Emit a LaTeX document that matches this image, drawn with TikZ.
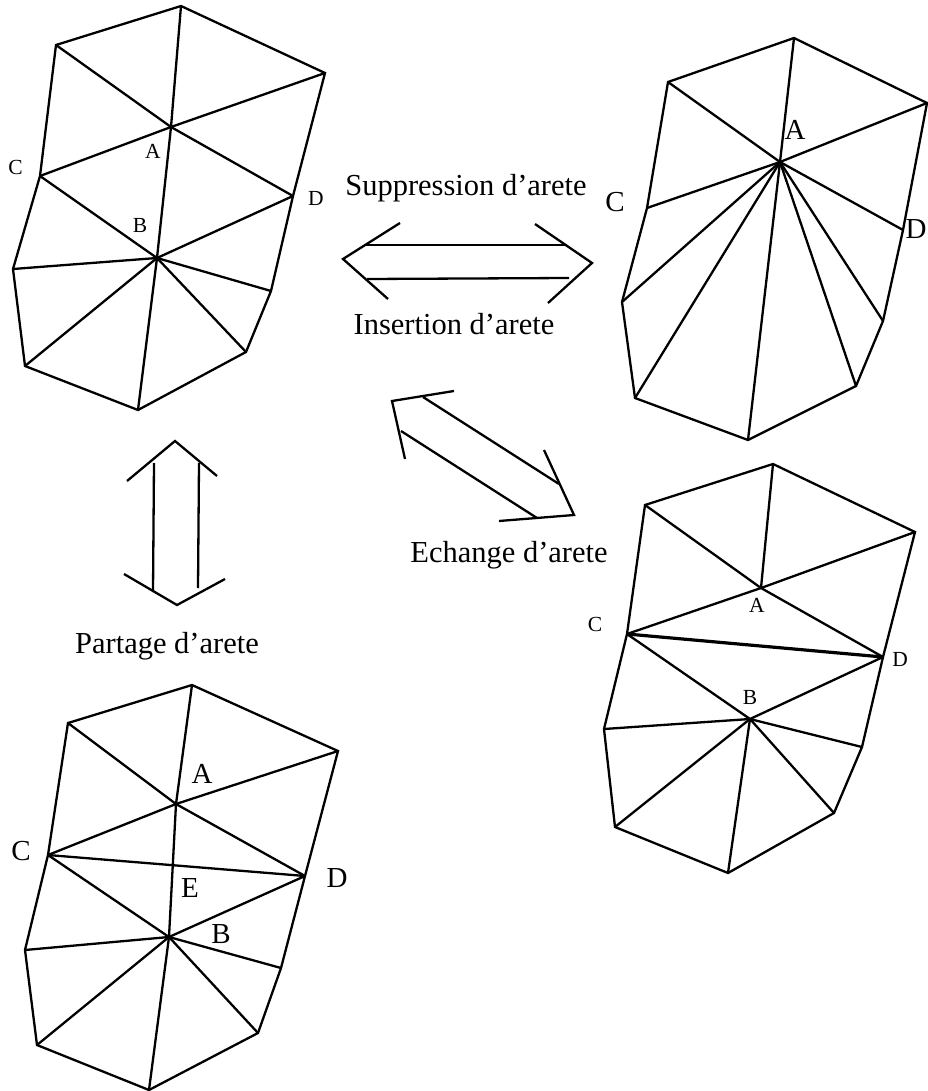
\documentclass[tikz,border=0pt]{standalone}
\usepackage{fontspec}
\setmainfont{Liberation Serif}
\usetikzlibrary{positioning}
\begin{document}
\begin{tikzpicture}[
    x=1pt, y=-1pt,
    edge/.style={line width=2.3pt, line join=miter, line cap=butt},
    smalllabel/.style={font=\fontsize{21.5}{26}\selectfont, inner sep=0pt},
    midlabel/.style={font=\fontsize{29}{34}\selectfont, inner sep=0pt},
    biglabel/.style={font=\fontsize{29}{34}\selectfont, inner sep=0pt},
    caption/.style={font=\fontsize{30.5}{36}\selectfont, inner sep=0pt},
]
\useasboundingbox (0,0) rectangle (927,1091);

% top left mesh
\foreach \n/\x/\y in {T/181/6, TL/56/45, TR/325/73, A/171/127, C/40/176, D/293/196, B/157/258, L/13/269, R/271/291, BR/246/352, BL/25/366, S/138/410}
    \coordinate (a\n) at (\x,\y);
\draw[edge] (aT) -- (aTL) -- (aC) -- (aL) -- (aBL) -- (aS) -- (aBR) -- (aR) -- (aD) -- (aTR) -- cycle;
\foreach \p/\q in {T/A, TL/A, TR/A, C/A, D/A, A/B, C/B, D/B, L/B, BL/B, S/B, BR/B, R/B}
    \draw[edge] (a\p) -- (a\q);
\node[smalllabel] (aAl) at (153,151) {A};
\node[smalllabel] (aBl) at (140,225) {B};
\node[smalllabel] (aCl) at (15.5,167) {C};
\node[smalllabel] (aDl) at (316,198) {D};

% top right mesh
\foreach \n/\x/\y in {T/794/38, TL/668/82, TR/927/103, A/780/162, C/647/208, D/903/230, L/622/302, R/883/321, BR/856/386, BL/635/398, S/748/440}
    \coordinate (b\n) at (\x,\y);
\draw[edge] (bT) -- (bTL) -- (bC) -- (bL) -- (bBL) -- (bS) -- (bBR) -- (bR) -- (bD) -- (bTR) -- cycle;
\foreach \p in {T, TL, TR, C, D, L, R, BR, BL, S}
    \draw[edge] (b\p) -- (bA);
\node[biglabel] (bAl) at (795,130) {A};
\node[biglabel] (bCl) at (615,202) {C};
\node[biglabel] (bDl) at (916,229) {D};

% right mesh
\foreach \n/\x/\y in {T/773/464, TL/645/505, TR/915/532, A/761/588, C/627/634, D/883/657, B/750/719, L/604/729, R/862/747, BR/834/813, BL/615/827, S/728/873}
    \coordinate (c\n) at (\x,\y);
\draw[edge] (cT) -- (cTL) -- (cC) -- (cL) -- (cBL) -- (cS) -- (cBR) -- (cR) -- (cD) -- (cTR) -- cycle;
\foreach \p/\q in {T/A, TL/A, TR/A, C/A, D/A, C/B, D/B, L/B, BL/B, S/B, BR/B, R/B}
    \draw[edge] (c\p) -- (c\q);
\draw[edge, line width=3.2pt] (cC) -- (cD);
\node[smalllabel] (cAl) at (757,605) {A};
\node[smalllabel] (cBl) at (750,697) {B};
\node[smalllabel] (cCl) at (595,624) {C};
\node[smalllabel] (cDl) at (900,659) {D};

% bottom left mesh
\foreach \n/\x/\y in {T/192/685, TL/68/723, TR/338/751, A/176/804, C/48/855, D/305/876, B/169/937, L/25/950, R/281/968, BR/258/1033, BL/37/1045, S/149/1090}
    \coordinate (d\n) at (\x,\y);
\draw[edge] (dT) -- (dTL) -- (dC) -- (dL) -- (dBL) -- (dS) -- (dBR) -- (dR) -- (dD) -- (dTR) -- cycle;
\foreach \p/\q in {T/A, TL/A, TR/A, C/A, D/A, A/B, C/D, C/B, D/B, L/B, BL/B, S/B, BR/B, R/B}
    \draw[edge] (d\p) -- (d\q);
\node[midlabel] (dAl) at (202,774) {A};
\node[midlabel] (dCl) at (21,851) {C};
\node[midlabel] (dDl) at (337,878) {D};
\node[midlabel] (dEl) at (190,888) {E};
\node[midlabel] (dBl) at (221,934) {B};

% double arrows
\foreach \n/\x/\y in {a/400/223, b/343/259, c/388/299, d/535/224, e/592/263, f/548/303, g/365/245, h/567/245, i/367/279, j/569/278}
    \coordinate (h\n) at (\x,\y);
\draw[edge] (ha) -- (hb) -- (hc);
\draw[edge] (hd) -- (he) -- (hf);
\draw[edge] (hg) -- (hh);
\draw[edge] (hi) -- (hj);

\foreach \n/\x/\y in {a/454/391, b/392/401, c/405/459, d/544/450, e/574/515, f/499/521, g/423/397, h/559/484, i/401/431, j/537/518}
    \coordinate (e\n) at (\x,\y);
\draw[edge] (ea) -- (eb) -- (ec);
\draw[edge] (ed) -- (ee) -- (ef);
\draw[edge] (eg) -- (eh);
\draw[edge] (ei) -- (ej);

\foreach \n/\x/\y in {a/127/481, b/175/441, c/217/476, d/124/574, e/177/605, f/225/579, g/154/463, h/153/592, i/199/463, j/198/588}
    \coordinate (v\n) at (\x,\y);
\draw[edge] (va) -- (vb) -- (vc);
\draw[edge] (vd) -- (ve) -- (vf);
\draw[edge] (vg) -- (vh);
\draw[edge] (vi) -- (vj);

\node[caption] (suppr) at (466,188) {Suppression d’arete};
\node[caption] (inser) at (454,324) {Insertion d’arete};
\node[caption] (echan) at (509,555) {Echange d’arete};
\node[caption] (parta) at (167,646) {Partage d’arete};
\end{tikzpicture}
\end{document}
